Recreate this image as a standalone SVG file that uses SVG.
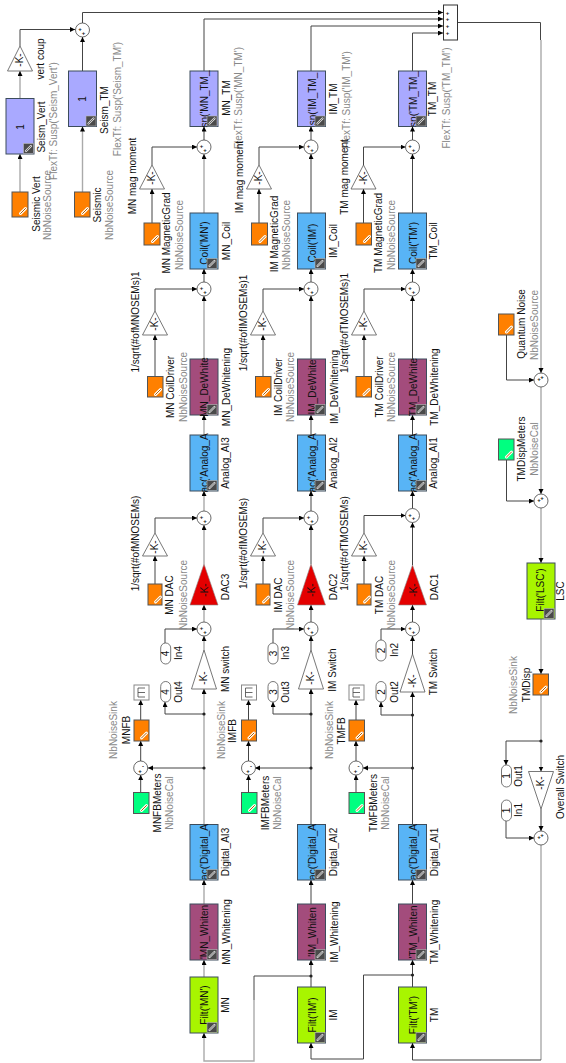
<svg xmlns="http://www.w3.org/2000/svg" width="566" height="1063" viewBox="0 0 566 1063">
<style>
text{font-family:"Liberation Sans",Arial,sans-serif;font-size:10px;fill:#111;text-anchor:middle}
text.n{fill:#888}
text.p{font-size:6px;font-weight:bold}
.c{fill:none;stroke:#444;stroke-width:1;marker-end:url(#a)}
.g{fill:none;stroke:#aaa;stroke-width:1.4;marker-end:url(#a)}
.d{fill:none;stroke:#444;stroke-width:1}
.e{fill:none;stroke:#aaa;stroke-width:1.4}
.b{stroke:#3c4c5c;stroke-width:1}
.s{fill:#fff;stroke:#444;stroke-width:.8}
.t{fill:#fff;stroke:#555;stroke-width:.8}
.pur{fill:#a9a9ff}.blu{fill:#58b4f6}.mag{fill:#a34c7c}.lim{fill:#a8f500}.ora{fill:#ff8000;stroke:#555;stroke-width:1}.grn{fill:#00ff80;stroke:#555;stroke-width:1}.red{fill:#e40000;stroke:#888;stroke-width:.6}
</style>
<defs>
<marker id="a" markerUnits="userSpaceOnUse" markerWidth="6" markerHeight="6" refX="5" refY="2.5" orient="auto"><path d="M0 0L5 2.5L0 5z" fill="#000"/></marker>
<g id="ld"><rect width="10" height="10" fill="#4a4a4a" stroke="#bbb" stroke-width=".6"/><path d="M2.5 7.5L7.5 2.5" stroke="#ddd" stroke-width="2.2" stroke-linecap="round"/><path d="M2.5 7.5L7.5 2.5" stroke="#4a4a4a" stroke-width=".8" stroke-linecap="round"/></g>
<g id="lo"><path d="M2.5 7.5L7.5 2.5" stroke="#fff" stroke-width="3" stroke-linecap="round"/><path d="M2.5 7.5L7.5 2.5" stroke="#b06000" stroke-width="1" stroke-linecap="round"/></g>
<circle id="dot" r="1.6" fill="#222"/>
<g id="tm"><rect x="-7.500" y="-7.500" width="15" height="15" fill="#fff" stroke="#888"/><path d="M-3.500 -4.500V4.500M-3.500 -4.500H3.500M-3.500 4.500H3.500M-3.500 0H3.500" fill="none" stroke="#444" stroke-width=".8"/></g>
</defs>

<g id="connectors">
<path class="g" d="M20 192V154"/><path class="g" d="M20 98.500V71"/><path class="c" d="M20 46V29.500H75"/>
<path class="g" d="M82.500 192V126.500"/><path class="c" d="M82.500 71V37"/><path class="c" d="M82.500 23V12.500H443"/>
<path class="c" d="M204 71V19H443"/><path class="c" d="M311 71V26H443"/><path class="c" d="M412.500 71V33H443"/>
<path class="d" d="M457.500 22.500H540.500V40"/><path class="g" d="M541 40V373"/>
<path class="c" d="M204 140V126.500"/><path class="g" d="M204 213V154"/><path class="c" d="M152 165V147H197"/><path class="c" d="M152 223V189"/>
<path class="c" d="M311 140V126.500"/><path class="c" d="M311 213V154"/><path class="c" d="M259 165V147H304"/><path class="c" d="M259 223V189"/>
<path class="c" d="M412.500 140V126.500"/><path class="c" d="M412.500 213V154"/><path class="c" d="M363.500 165V147H405.500"/><path class="c" d="M363.500 223V189"/>
<path class="c" d="M204 282V269"/><path class="g" d="M204 359V296"/><path class="c" d="M155 311V289H197"/><path class="c" d="M155 376.500V335"/>
<path class="c" d="M311 282V269"/><path class="c" d="M311 359V296"/><path class="c" d="M263 311V289H304"/><path class="c" d="M263 376.500V335"/>
<path class="c" d="M412.500 282V269"/><path class="c" d="M412.500 359V296"/><path class="c" d="M364 311V289H405.500"/><path class="c" d="M364 376.500V335"/>
<path class="g" d="M204 435V415"/><path class="g" d="M204 511V491"/><path class="c" d="M155 533V518H197"/><path class="c" d="M155 584V556"/>
<path class="c" d="M311 435V415"/><path class="c" d="M311 511V491"/><path class="c" d="M263 533V518H304"/><path class="c" d="M263 584V556"/>
<path class="c" d="M412.500 435V415"/><path class="c" d="M412.500 508.500V491"/><path class="c" d="M364 533V515.500H405.500"/><path class="c" d="M364 584V556"/>
<path class="g" d="M204 564V525"/><path class="g" d="M204 622V605"/><path class="c" d="M165 643V629H197"/><path class="g" d="M204 650V636"/>
<path class="c" d="M311 564V525"/><path class="c" d="M311 622V605"/><path class="c" d="M273 643V629H304"/><path class="c" d="M311 650V636"/>
<path class="c" d="M412.500 565V522.500"/><path class="c" d="M412.500 622V605"/><path class="c" d="M381 640V629H405.500"/><path class="c" d="M412.500 654V636"/>
<path class="g" d="M204 824.500V689"/><path class="c" d="M204 714H165V702"/><path class="c" d="M204 768H148"/>
<path class="c" d="M311 824.500V689"/><path class="c" d="M311 714H273V702"/><path class="c" d="M311 768H255"/>
<path class="c" d="M412.500 824.500V692"/><path class="c" d="M412.500 715H381V702"/><path class="c" d="M412.500 768H363"/>
<path class="c" d="M140.700 761V741"/><path class="c" d="M140.700 720V700"/><path class="c" d="M140.700 792.700V775"/>
<path class="c" d="M248.500 761V741"/><path class="c" d="M248.500 720V700"/><path class="c" d="M248.500 792.700V775"/>
<path class="c" d="M356 761V741"/><path class="c" d="M356 720V700"/><path class="c" d="M356 792.700V775"/>
<path class="g" d="M204 904V880"/><path class="g" d="M204 977V960"/>
<path class="c" d="M311 904V880"/><path class="c" d="M311 987V960"/>
<path class="c" d="M412.500 904V880"/><path class="c" d="M412.500 987V960"/>
<path class="d" d="M311 976H254V1000"/><path class="g" d="M254 1000V1061H204V1033"/>
<path class="c" d="M412.500 975H363.500V1059H311V1043"/>
<path class="e" d="M541 845V1060"/><path class="c" d="M541 1060H412.500V1043"/>
<path class="g" d="M541 387V494"/><path class="g" d="M541 508V563"/><path class="g" d="M541 619V674"/><path class="g" d="M541 695V771.500"/>
<path class="c" d="M541 741H506V765"/><path class="c" d="M541 809V831"/><path class="c" d="M506 821V838H534"/>
<path class="c" d="M506.500 335V380H534"/><path class="c" d="M506.500 460V501H534"/>
<use href="#dot" x="204" y="714"/><use href="#dot" x="204" y="768"/><use href="#dot" x="311" y="714"/><use href="#dot" x="311" y="768"/><use href="#dot" x="412.500" y="715"/><use href="#dot" x="412.500" y="768"/><use href="#dot" x="311" y="976"/><use href="#dot" x="412.500" y="975"/><use href="#dot" x="541" y="741"/>
</g>

<g id="seism-vert-src"><rect class="ora" x="12" y="192" width="16" height="25"/><use href="#lo" x="18" y="206"/><text transform="translate(39.500 204) rotate(-90)">Seismic Vert</text><text class="n" transform="translate(51 205) rotate(-90)">NbNoiseSource</text></g>
<g id="seism-src"><rect class="ora" x="74.500" y="192" width="15.500" height="25"/><use href="#lo" x="80" y="206"/><text transform="translate(100.500 205) rotate(-90)">Seismic</text><text class="n" transform="translate(113 205) rotate(-90)">NbNoiseSource</text></g>
<g id="seism-vert"><rect class="b pur" x="6" y="98.500" width="28" height="55.500"/><text transform="translate(24 127) rotate(-90)">1</text><use href="#ld" x="23.500" y="143.500"/><text transform="translate(44.500 127) rotate(-90)">Seism_Vert</text><text class="n" transform="translate(57 121) rotate(-90)">FlexTf: Susp('Seism_Vert')</text></g>
<g id="seism-tm"><rect class="b pur" x="68.500" y="71" width="28" height="55.500"/><text transform="translate(86 99) rotate(-90)">1</text><use href="#ld" x="86" y="116"/><text transform="translate(108 110) rotate(-90)">Seism_TM</text><text class="n" transform="translate(121 99) rotate(-90)">FlexTf: Susp('Seism_TM')</text></g>
<g id="vert-coup"><path class="t" d="M20 46L32.500 71H7.500z"/><text transform="translate(23 60) rotate(-90)">-K-</text><text transform="translate(43.500 59) rotate(-90)">vert coup</text></g>
<g id="sum-seism"><circle class="s" cx="82.500" cy="30" r="7"/><text class="p" x="80" y="31">+</text><text class="p" x="83.500" y="34.500">+</text></g>
<g id="mux"><rect x="443.500" y="5" width="14" height="35" fill="#fff" stroke="#333"/><text class="p" x="447.500" y="14.500">+</text><text class="p" x="447.500" y="21">+</text><text class="p" x="447.500" y="28">+</text><text class="p" x="447.500" y="35">+</text></g>

<g id="mn-tm"><rect class="b pur" x="190" y="71" width="28" height="55.500"/><text transform="translate(208 99) rotate(-90)">sn('MN_TM_</text><use href="#ld" x="207" y="116"/><text transform="translate(230 98) rotate(-90)">MN_TM</text><text class="n" transform="translate(242 98) rotate(-90)">FlexTf: Susp('MN_TM')</text></g>
<g id="im-tm"><rect class="b pur" x="297.500" y="71" width="28" height="55.500"/><text transform="translate(315.500 99) rotate(-90)">sn('IM_TM_</text><use href="#ld" x="315" y="116"/><text transform="translate(337 99) rotate(-90)">IM_TM</text><text class="n" transform="translate(350 100) rotate(-90)">FlexTf: Susp('IM_TM')</text></g>
<g id="tm-tm"><rect class="b pur" x="398.500" y="71" width="28" height="55.500"/><text transform="translate(416.500 99) rotate(-90)">sp('TM_TM_</text><use href="#ld" x="416" y="116"/><text transform="translate(436 99) rotate(-90)">TM_TM</text><text class="n" transform="translate(450 98) rotate(-90)">FlexTf: Susp('TM_TM')</text></g>

<g id="sum-mn-1"><circle class="s" cx="204" cy="147" r="7"/><text class="p" x="201.500" y="148">+</text><text class="p" x="205" y="151.500">+</text></g>
<g id="sum-im-1"><circle class="s" cx="311" cy="147" r="7"/><text class="p" x="308.500" y="148">+</text><text class="p" x="312" y="151.500">+</text></g>
<g id="sum-tm-1"><circle class="s" cx="412.500" cy="147" r="7"/><text class="p" x="410" y="148">+</text><text class="p" x="413.500" y="151.500">+</text></g>

<g id="mn-mag"><path class="t" d="M152 165L164.500 189H139.500z"/><text transform="translate(155 178) rotate(-90)">-K-</text><text transform="translate(136 176) rotate(-90)">MN mag moment</text></g>
<g id="im-mag"><path class="t" d="M259 165L271.500 189H246.500z"/><text transform="translate(262 178) rotate(-90)">-K-</text><text transform="translate(243 177) rotate(-90)">IM mag moment</text></g>
<g id="tm-mag"><path class="t" d="M363.500 165L376 189H351z"/><text transform="translate(366.500 178) rotate(-90)">-K-</text><text transform="translate(348 177) rotate(-90)">TM mag moment</text></g>

<g id="mn-grad"><rect class="ora" x="144" y="223" width="16" height="22"/><use href="#lo" x="150" y="234"/><text transform="translate(170 233) rotate(-90)">MN MagneticGrad</text><text class="n" transform="translate(183 235) rotate(-90)">NbNoiseSource</text></g>
<g id="im-grad"><rect class="ora" x="251.500" y="223" width="16" height="22"/><use href="#lo" x="257.500" y="234"/><text transform="translate(278 234) rotate(-90)">IM MagneticGrad</text><text class="n" transform="translate(289.500 235) rotate(-90)">NbNoiseSource</text></g>
<g id="tm-grad"><rect class="ora" x="356" y="223" width="15.500" height="22"/><use href="#lo" x="362" y="234"/><text transform="translate(382 233) rotate(-90)">TM MagneticGrad</text><text class="n" transform="translate(395 235) rotate(-90)">NbNoiseSource</text></g>

<g id="mn-coil"><rect class="b blu" x="190" y="213" width="28" height="56"/><text transform="translate(208 243) rotate(-90)">Coil('MN')</text><use href="#ld" x="207" y="258.500"/><text transform="translate(230 241) rotate(-90)">MN_Coil</text></g>
<g id="im-coil"><rect class="b blu" x="297.500" y="213" width="28" height="56"/><text transform="translate(315.500 243) rotate(-90)">Coil('IM')</text><use href="#ld" x="315" y="258.500"/><text transform="translate(337 241) rotate(-90)">IM_Coil</text></g>
<g id="tm-coil"><rect class="b blu" x="398.500" y="213" width="28" height="56"/><text transform="translate(416.500 243) rotate(-90)">Coil('TM')</text><use href="#ld" x="416" y="258.500"/><text transform="translate(437 241) rotate(-90)">TM_Coil</text></g>

<g id="sum-mn-2"><circle class="s" cx="204" cy="289" r="7"/><text class="p" x="201.500" y="290">+</text><text class="p" x="205" y="293.500">+</text></g>
<g id="sum-im-2"><circle class="s" cx="311" cy="289" r="7"/><text class="p" x="308.500" y="290">+</text><text class="p" x="312" y="293.500">+</text></g>
<g id="sum-tm-2"><circle class="s" cx="412.500" cy="289" r="7"/><text class="p" x="410" y="290">+</text><text class="p" x="413.500" y="293.500">+</text></g>

<g id="mn-cd-k"><path class="t" d="M155 311L167.500 335H142.500z"/><text transform="translate(158 324) rotate(-90)">-K-</text><text transform="translate(139 322) rotate(-90)">1/sqrt(#ofMNOSEMs)1</text></g>
<g id="im-cd-k"><path class="t" d="M263 311L275.500 335H250.500z"/><text transform="translate(266 324) rotate(-90)">-K-</text><text transform="translate(247 323) rotate(-90)">1/sqrt(#ofIMOSEMs)1</text></g>
<g id="tm-cd-k"><path class="t" d="M364 311L376.500 335H351.500z"/><text transform="translate(367 324) rotate(-90)">-K-</text><text transform="translate(348 323) rotate(-90)">1/sqrt(#ofTMOSEMs)1</text></g>

<g id="mn-cd"><rect class="ora" x="147.500" y="376.500" width="15.500" height="20.500"/><use href="#lo" x="153" y="387"/><text transform="translate(174 387) rotate(-90)">MN CoilDriver</text><text class="n" transform="translate(187 387) rotate(-90)">NbNoiseSource</text></g>
<g id="im-cd"><rect class="ora" x="255.500" y="376.500" width="15.500" height="20.500"/><use href="#lo" x="261" y="387"/><text transform="translate(282 387) rotate(-90)">IM CoilDriver</text><text class="n" transform="translate(294 387) rotate(-90)">NbNoiseSource</text></g>
<g id="tm-cd"><rect class="ora" x="356" y="376.500" width="15.500" height="20.500"/><use href="#lo" x="361.500" y="387"/><text transform="translate(383 387) rotate(-90)">TM CoilDriver</text><text class="n" transform="translate(395 387) rotate(-90)">NbNoiseSource</text></g>

<g id="mn-dewhite"><rect class="b mag" x="190" y="359" width="28" height="56"/><text transform="translate(208 387) rotate(-90)">MN_DeWhite</text><use href="#ld" x="207" y="404.500"/><text transform="translate(230 387) rotate(-90)">MN_DeWhitening</text></g>
<g id="im-dewhite"><rect class="b mag" x="297.500" y="359" width="28" height="56"/><text transform="translate(315.500 387) rotate(-90)">IM_DeWhite</text><use href="#ld" x="315" y="404.500"/><text transform="translate(338 387) rotate(-90)">IM_DeWhitening</text></g>
<g id="tm-dewhite"><rect class="b mag" x="398.500" y="359" width="28" height="56"/><text transform="translate(416.500 387) rotate(-90)">TM_DeWhite</text><use href="#ld" x="416" y="404.500"/><text transform="translate(438 387) rotate(-90)">TM_DeWhitening</text></g>

<g id="analog-ai3"><rect class="b blu" x="190" y="435" width="28" height="56"/><text transform="translate(208 463) rotate(-90)">ac('Analog_A</text><use href="#ld" x="207" y="480.500"/><text transform="translate(229 463) rotate(-90)">Analog_AI3</text></g>
<g id="analog-ai2"><rect class="b blu" x="297.500" y="435" width="28" height="56"/><text transform="translate(315.500 463) rotate(-90)">ac('Analog_A</text><use href="#ld" x="315" y="480.500"/><text transform="translate(337 463) rotate(-90)">Analog_AI2</text></g>
<g id="analog-ai1"><rect class="b blu" x="398.500" y="435" width="28" height="56"/><text transform="translate(416.500 463) rotate(-90)">ac('Analog_A</text><use href="#ld" x="416" y="480.500"/><text transform="translate(437 463) rotate(-90)">Analog_AI1</text></g>

<g id="sum-mn-3"><circle class="s" cx="204" cy="518" r="7"/><text class="p" x="201.500" y="519">+</text><text class="p" x="205" y="522.500">+</text></g>
<g id="sum-im-3"><circle class="s" cx="311" cy="518" r="7"/><text class="p" x="308.500" y="519">+</text><text class="p" x="312" y="522.500">+</text></g>
<g id="sum-tm-3"><circle class="s" cx="412.500" cy="515.500" r="7"/><text class="p" x="410" y="516.500">+</text><text class="p" x="413.500" y="520">+</text></g>

<g id="mn-dac-k"><path class="t" d="M155 533L167.500 556H142.500z"/><text transform="translate(158 547) rotate(-90)">-K-</text><text transform="translate(139 543.500) rotate(-90)">1/sqrt(#ofMNOSEMs)</text></g>
<g id="im-dac-k"><path class="t" d="M263 533L275.500 556H250.500z"/><text transform="translate(266 547) rotate(-90)">-K-</text><text transform="translate(247 543.500) rotate(-90)">1/sqrt(#ofIMOSEMs)</text></g>
<g id="tm-dac-k"><path class="t" d="M364 533L376.500 556H351.500z"/><text transform="translate(367 547) rotate(-90)">-K-</text><text transform="translate(348 543.500) rotate(-90)">1/sqrt(#ofTMOSEMs)</text></g>

<g id="mn-dac"><rect class="ora" x="148" y="584" width="14" height="21"/><use href="#lo" x="153" y="594.500"/><text transform="translate(173 595) rotate(-90)">MN DAC</text><text class="n" transform="translate(186.500 595) rotate(-90)">NbNoiseSource</text></g>
<g id="im-dac"><rect class="ora" x="256" y="584" width="14" height="21"/><use href="#lo" x="261" y="594.500"/><text transform="translate(282 595) rotate(-90)">IM DAC</text><text class="n" transform="translate(294 595) rotate(-90)">NbNoiseSource</text></g>
<g id="tm-dac"><rect class="ora" x="357" y="584" width="14" height="21"/><use href="#lo" x="362" y="594.500"/><text transform="translate(383 595) rotate(-90)">TM DAC</text><text class="n" transform="translate(394.500 595) rotate(-90)">NbNoiseSource</text></g>

<g id="dac3"><path class="red" d="M204 564L218 605H190z"/><text transform="translate(208 590) rotate(-90)">-K-</text><text transform="translate(229 587) rotate(-90)">DAC3</text></g>
<g id="dac2"><path class="red" d="M311 564L325.500 605H297.500z"/><text transform="translate(315 590) rotate(-90)">-K-</text><text transform="translate(337 587) rotate(-90)">DAC2</text></g>
<g id="dac1"><path class="red" d="M412.500 565L426.500 605H398.500z"/><text transform="translate(416.500 590) rotate(-90)">-K-</text><text transform="translate(438 587) rotate(-90)">DAC1</text></g>

<g id="sum-mn-4"><circle class="s" cx="204" cy="629" r="7"/><text class="p" x="201.500" y="630">+</text><text class="p" x="205" y="633.500">+</text></g>
<g id="sum-im-4"><circle class="s" cx="311" cy="629" r="7"/><text class="p" x="308.500" y="630">+</text><text class="p" x="312" y="633.500">+</text></g>
<g id="sum-tm-4"><circle class="s" cx="412.500" cy="629" r="7"/><text class="p" x="410" y="630">+</text><text class="p" x="413.500" y="633.500">+</text></g>

<g id="in4"><rect class="t" x="160.700" y="643" width="10" height="21" rx="5"/><text transform="translate(169 653.500) rotate(-90)">4</text><text transform="translate(182 653) rotate(-90)">In4</text></g>
<g id="in3"><rect class="t" x="268" y="643" width="10" height="21" rx="5"/><text transform="translate(276.500 653.500) rotate(-90)">3</text><text transform="translate(289 653) rotate(-90)">In3</text></g>
<g id="in2"><rect class="t" x="376" y="640" width="10" height="21" rx="5"/><text transform="translate(384.500 650.500) rotate(-90)">2</text><text transform="translate(398 650) rotate(-90)">In2</text></g>
<g id="out4"><rect class="t" x="160.700" y="681.500" width="10" height="20.500" rx="5"/><text transform="translate(169 692) rotate(-90)">4</text><text transform="translate(182 692) rotate(-90)">Out4</text></g>
<g id="out3"><rect class="t" x="268" y="681.500" width="10" height="20.500" rx="5"/><text transform="translate(276.500 692) rotate(-90)">3</text><text transform="translate(289 692) rotate(-90)">Out3</text></g>
<g id="out2"><rect class="t" x="376" y="681.500" width="10" height="20.500" rx="5"/><text transform="translate(384.500 692) rotate(-90)">2</text><text transform="translate(398 692) rotate(-90)">Out2</text></g>

<g id="mn-switch"><path class="t" d="M204 650L216.500 689H191.500z"/><text transform="translate(207 678) rotate(-90)">-K-</text><text transform="translate(229 669) rotate(-90)">MN switch</text></g>
<g id="im-switch"><path class="t" d="M311 650L323.500 689H298.500z"/><text transform="translate(314 678) rotate(-90)">-K-</text><text transform="translate(336 670) rotate(-90)">IM Switch</text></g>
<g id="tm-switch"><path class="t" d="M412.500 654L425 692H400z"/><text transform="translate(415.500 681) rotate(-90)">-K-</text><text transform="translate(437 672) rotate(-90)">TM Switch</text></g>

<g id="mn-term"><use href="#tm" x="141.500" y="692.500"/></g>
<g id="im-term"><use href="#tm" x="249" y="692.500"/></g>
<g id="tm-term"><use href="#tm" x="356.500" y="692.500"/></g>

<g id="mnfb"><rect class="ora" x="134" y="720" width="15" height="21"/><use href="#lo" x="139" y="730.500"/><text transform="translate(130 730) rotate(-90)">MNFB</text><text class="n" transform="translate(117 730) rotate(-90)">NbNoiseSink</text></g>
<g id="imfb"><rect class="ora" x="241.500" y="720" width="15" height="21"/><use href="#lo" x="246.500" y="730.500"/><text transform="translate(236 731) rotate(-90)">IMFB</text><text class="n" transform="translate(225 730) rotate(-90)">NbNoiseSink</text></g>
<g id="tmfb"><rect class="ora" x="349" y="720" width="15.500" height="21"/><use href="#lo" x="354.500" y="730.500"/><text transform="translate(345 731) rotate(-90)">TMFB</text><text class="n" transform="translate(333 730) rotate(-90)">NbNoiseSink</text></g>

<g id="sum-mn-fb"><circle class="s" cx="140.700" cy="768" r="7"/><text class="p" x="143" y="768">-</text><text class="p" x="140" y="772.500">+</text></g>
<g id="sum-im-fb"><circle class="s" cx="248.500" cy="768" r="7"/><text class="p" x="251" y="768">-</text><text class="p" x="248" y="772.500">+</text></g>
<g id="sum-tm-fb"><circle class="s" cx="356" cy="768" r="7"/><text class="p" x="358.500" y="768">-</text><text class="p" x="355.500" y="772.500">+</text></g>

<g id="mnfb-meters"><rect class="grn" x="133.500" y="792.500" width="15.500" height="21"/><use href="#lo" x="139" y="803"/><text transform="translate(161 803) rotate(-90)">MNFBMeters</text><text class="n" transform="translate(173 803) rotate(-90)">NbNoiseCal</text></g>
<g id="imfb-meters"><rect class="grn" x="241.500" y="792.500" width="15.500" height="21"/><use href="#lo" x="247" y="803"/><text transform="translate(269 803) rotate(-90)">IMFBMeters</text><text class="n" transform="translate(281 803) rotate(-90)">NbNoiseCal</text></g>
<g id="tmfb-meters"><rect class="grn" x="349" y="792.500" width="15.500" height="21"/><use href="#lo" x="354.500" y="803"/><text transform="translate(377 803) rotate(-90)">TMFBMeters</text><text class="n" transform="translate(389 803) rotate(-90)">NbNoiseCal</text></g>

<g id="digital-ai3"><rect class="b blu" x="190" y="824.500" width="28" height="55.500"/><text transform="translate(208 852) rotate(-90)">ac('Digital_A</text><use href="#ld" x="207" y="869.500"/><text transform="translate(229 852) rotate(-90)">Digital_AI3</text></g>
<g id="digital-ai2"><rect class="b blu" x="297.500" y="824.500" width="28" height="55.500"/><text transform="translate(315.500 852) rotate(-90)">ac('Digital_A</text><use href="#ld" x="315" y="869.500"/><text transform="translate(337 852) rotate(-90)">Digital_AI2</text></g>
<g id="digital-ai1"><rect class="b blu" x="398.500" y="824.500" width="28" height="55.500"/><text transform="translate(416.500 852) rotate(-90)">ac('Digital_A</text><use href="#ld" x="416" y="869.500"/><text transform="translate(438 852) rotate(-90)">Digital_AI1</text></g>

<g id="mn-whitening"><rect class="b mag" x="190" y="904" width="28" height="56"/><text transform="translate(208 932) rotate(-90)">'MN_Whiten</text><use href="#ld" x="207" y="949.500"/><text transform="translate(230 932) rotate(-90)">MN_Whitening</text></g>
<g id="im-whitening"><rect class="b mag" x="297.500" y="904" width="28" height="56"/><text transform="translate(315.500 932) rotate(-90)">'IM_Whiten</text><use href="#ld" x="315" y="949.500"/><text transform="translate(338 932) rotate(-90)">IM_Whitening</text></g>
<g id="tm-whitening"><rect class="b mag" x="398.500" y="904" width="28" height="56"/><text transform="translate(416.500 932) rotate(-90)">'TM_Whiten</text><use href="#ld" x="416" y="949.500"/><text transform="translate(438 932) rotate(-90)">TM_Whitening</text></g>

<g id="mn-filt"><rect class="b lim" x="190" y="977" width="28" height="56"/><text transform="translate(208 1005) rotate(-90)">Filt('MN')</text><use href="#ld" x="207" y="1022.500"/><text transform="translate(229 1005) rotate(-90)">MN</text></g>
<g id="im-filt"><rect class="b lim" x="297.500" y="987" width="28" height="56"/><text transform="translate(315.500 1015) rotate(-90)">Filt('IM')</text><use href="#ld" x="315" y="1032.500"/><text transform="translate(337 1015) rotate(-90)">IM</text></g>
<g id="tm-filt"><rect class="b lim" x="398.500" y="987" width="28" height="56"/><text transform="translate(416.500 1015) rotate(-90)">Filt('TM')</text><use href="#ld" x="416" y="1032.500"/><text transform="translate(438 1015) rotate(-90)">TM</text></g>

<g id="quantum"><rect class="ora" x="498.500" y="314" width="15.500" height="21"/><use href="#lo" x="504" y="324.500"/><text transform="translate(525 324) rotate(-90)">Quantum Noise</text><text class="n" transform="translate(538 325) rotate(-90)">NbNoiseSource</text></g>
<g id="sum-q"><circle class="s" cx="541" cy="380" r="7"/><text class="p" x="539" y="381">+</text><text class="p" x="542" y="378.500">+</text></g>
<g id="tmdisp-meters"><rect class="grn" x="498.500" y="439" width="15.500" height="21"/><use href="#lo" x="504" y="449.500"/><text transform="translate(525 449) rotate(-90)">TMDispMeters</text><text class="n" transform="translate(538 449) rotate(-90)">NbNoiseCal</text></g>
<g id="sum-d"><circle class="s" cx="541" cy="501" r="7"/><text class="p" x="539" y="502">+</text><text class="p" x="542" y="499.500">+</text></g>
<g id="lsc"><rect class="b lim" x="527" y="563" width="28" height="56"/><text transform="translate(543.500 590) rotate(-90)">Filt('LSC')</text><use href="#ld" x="544" y="608.500"/><text transform="translate(564 591) rotate(-90)">LSC</text></g>
<g id="tmdisp"><rect class="ora" x="533" y="674" width="15.500" height="21"/><use href="#lo" x="538.500" y="684.500"/><text transform="translate(530 685) rotate(-90)">TMDisp</text><text class="n" transform="translate(517 685) rotate(-90)">NbNoiseSink</text></g>
<g id="out1"><rect class="t" x="501.500" y="765" width="10" height="22" rx="5"/><text transform="translate(510 776) rotate(-90)">1</text><text transform="translate(522 776) rotate(-90)">Out1</text></g>
<g id="in1"><rect class="t" x="501.500" y="800" width="10" height="21" rx="5"/><text transform="translate(510 810.500) rotate(-90)">1</text><text transform="translate(522 810) rotate(-90)">In1</text></g>
<g id="overall"><path class="t" d="M541 809L553.500 771.500H528.500z"/><text transform="translate(544 783) rotate(-90)">-K-</text><text transform="translate(564 787) rotate(-90)">Overall Switch</text></g>
<g id="sum-o"><circle class="s" cx="541" cy="838" r="7"/><text class="p" x="539" y="839">+</text><text class="p" x="542" y="836.500">+</text></g>
</svg>
